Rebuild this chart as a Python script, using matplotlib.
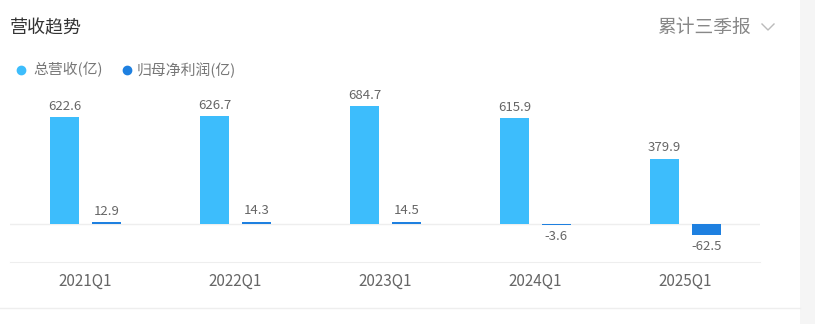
import numpy as np
import matplotlib.pyplot as plt
from matplotlib.patches import Rectangle
from matplotlib.lines import Line2D

plt.rcParams['font.family'] = ['Noto Sans CJK SC', 'DejaVu Sans']

# Data
quarters = ['2021Q1', '2022Q1', '2023Q1', '2024Q1', '2025Q1']
revenue = [622.6, 626.7, 684.7, 615.9, 379.9]
net_profit = [12.9, 14.3, 14.5, -3.6, -62.5]

REV_COLOR = '#3dbdfc'
PROFIT_COLOR = '#1e80e0'
TEXT_GRAY = '#666666'
LINE_GRAY = '#eeeeee'

W, H = 815, 324
fig = plt.figure(figsize=(W / 100, H / 100), dpi=100)
fig.patch.set_facecolor('white')

# right side panel strip and bottom separator
fig.patches.append(Rectangle((800 / W, 0), 15 / W, 1, transform=fig.transFigure,
                             facecolor='#f5f5f5', edgecolor='none', zorder=0))
fig.lines.append(Line2D([0, 800 / W], [1 - 308 / H] * 2, transform=fig.transFigure,
                        color=LINE_GRAY, lw=1))

# header
fig.text(10 / W, 1 - 28 / H, '营收趋势', fontsize=13, color='#333333', va='center')
fig.text(657 / W, 1 - 27 / H, '累计三季报', fontsize=13.5, color='#888888', va='center')
fig.lines.append(Line2D([762 / W, 768 / W, 774 / W], [1 - 24 / H, 1 - 30 / H, 1 - 24 / H],
                        transform=fig.transFigure, color='#bbbbbb', lw=1))

# legend
for cx, tx, color, label in [(21, 33, REV_COLOR, '总营收(亿)'),
                             (127, 137, PROFIT_COLOR, '归母净利润(亿)')]:
    fig.lines.append(Line2D([cx / W], [1 - 70 / H], transform=fig.transFigure,
                            marker='o', markersize=6, color=color, lw=0))
    fig.text(tx / W, 1 - 70 / H, label, fontsize=10.7, color='#777777', va='center')

# plot area: x 10..760, y 90..262 (pixels from top)
ax = fig.add_axes([10 / W, (H - 262) / H, 750 / W, 172 / H])
ax.set_facecolor('none')
units_per_px = 5.81
ax.set_ylim(-(262 - 224) * units_per_px, (224 - 90) * units_per_px)
ax.set_xlim(-0.5, len(quarters) - 0.5)

x = np.arange(len(quarters))
bw = 0.195
ax.bar(x - 0.137, revenue, bw, color=REV_COLOR, zorder=2)
ax.bar(x + 0.143, net_profit, bw, color=PROFIT_COLOR, zorder=2)
ax.axhline(0, color=LINE_GRAY, lw=1, zorder=1)

for xi, v in zip(x - 0.137, revenue):
    ax.annotate(f'{v:.1f}', (xi, v), xytext=(0, 3), textcoords='offset points',
                ha='center', va='bottom', fontsize=9.5, color=TEXT_GRAY)
for xi, v in zip(x + 0.143, net_profit):
    if v >= 0:
        ax.annotate(f'{v:.1f}', (xi, v), xytext=(0, 3), textcoords='offset points',
                    ha='center', va='bottom', fontsize=9.5, color=TEXT_GRAY)
    else:
        ax.annotate(f'{v:.1f}', (xi, v), xytext=(0, -4), textcoords='offset points',
                    ha='center', va='top', fontsize=9.5, color=TEXT_GRAY)

ax.set_xticks(x)
ax.set_xticklabels(quarters, fontsize=11, color=TEXT_GRAY)
ax.tick_params(axis='x', length=0, pad=8)
ax.set_yticks([])
for side in ['top', 'left', 'right']:
    ax.spines[side].set_visible(False)
ax.spines['bottom'].set_color(LINE_GRAY)

fig.savefig('out.png', dpi=100)
